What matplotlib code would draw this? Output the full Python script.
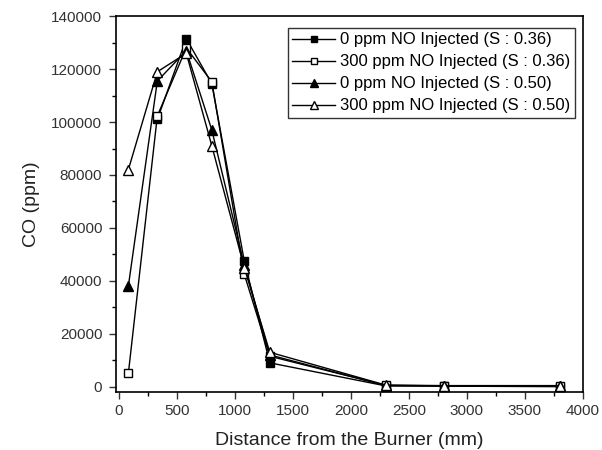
import matplotlib
matplotlib.use("Agg")
import matplotlib.pyplot as plt
from matplotlib.ticker import MultipleLocator

plt.rcParams["font.family"] = ["Liberation Sans", "DejaVu Sans"]

# CO along the furnace, four injection cases
dist_a = [330, 580, 800, 1080, 1300, 2300, 2800, 3800]
co_0ppm_s036 = [101000, 131500, 114500, 47500, 9000, 300, 200, 0]

dist_b = [80, 330, 580, 800, 1080, 1300, 2300, 2800, 3800]
co_300ppm_s036 = [5000, 102300, 128000, 115200, 42500, 11500, 500, 300, 300]
co_0ppm_s050 = [38000, 115500, 127000, 97000, 46000, 12000, 400, 300, 200]
co_300ppm_s050 = [82000, 119000, 126000, 91000, 45000, 13000, 600, 400, 400]

labels = [
    "0 ppm NO Injected (S : 0.36)",
    "300 ppm NO Injected (S : 0.36)",
    "0 ppm NO Injected (S : 0.50)",
    "300 ppm NO Injected (S : 0.50)",
]

fig = plt.figure(figsize=(6.02, 4.5), dpi=100)
ax = fig.add_axes([0.193, 0.129, 0.775, 0.835])

ms = 6
ax.plot(dist_a, co_0ppm_s036, "-s", color="black", lw=1, ms=ms,
        mfc="black", label=labels[0])
ax.plot(dist_b, co_300ppm_s036, "-s", color="black", lw=1, ms=ms,
        mfc="white", label=labels[1])
ax.plot(dist_b, co_0ppm_s050, "-^", color="black", lw=1, ms=ms + 1,
        mfc="black", label=labels[2])
ax.plot(dist_b, co_300ppm_s050, "-^", color="black", lw=1, ms=ms + 1,
        mfc="white", label=labels[3])

ax.set_xlim(-25, 4000)
ax.set_ylim(-2000, 140000)
ax.xaxis.set_major_locator(MultipleLocator(500))
ax.xaxis.set_minor_locator(MultipleLocator(250))
ax.yaxis.set_major_locator(MultipleLocator(20000))
ax.yaxis.set_minor_locator(MultipleLocator(10000))
ax.tick_params(which="major", direction="out", length=5, width=1,
               labelsize=11, colors="#333333", pad=4)
ax.tick_params(axis="y", which="major", pad=5)
ax.tick_params(which="minor", direction="out", length=3, width=1)
for sp in ax.spines.values():
    sp.set_linewidth(1.2)

ax.set_xlabel("Distance from the Burner (mm)", fontsize=14, color="#222222",
              labelpad=10)
ax.set_ylabel("CO (ppm)", fontsize=14, color="#222222", labelpad=8)

leg = ax.legend(loc="upper right", bbox_to_anchor=(0.983, 0.968), fontsize=12,
                frameon=True, fancybox=False, edgecolor="black",
                handlelength=2.6, handletextpad=0.3, borderpad=0.25,
                labelspacing=0.42, borderaxespad=0.0, markerscale=0.75)
leg.get_frame().set_linewidth(1)

fig.savefig("out.png", dpi=100)
